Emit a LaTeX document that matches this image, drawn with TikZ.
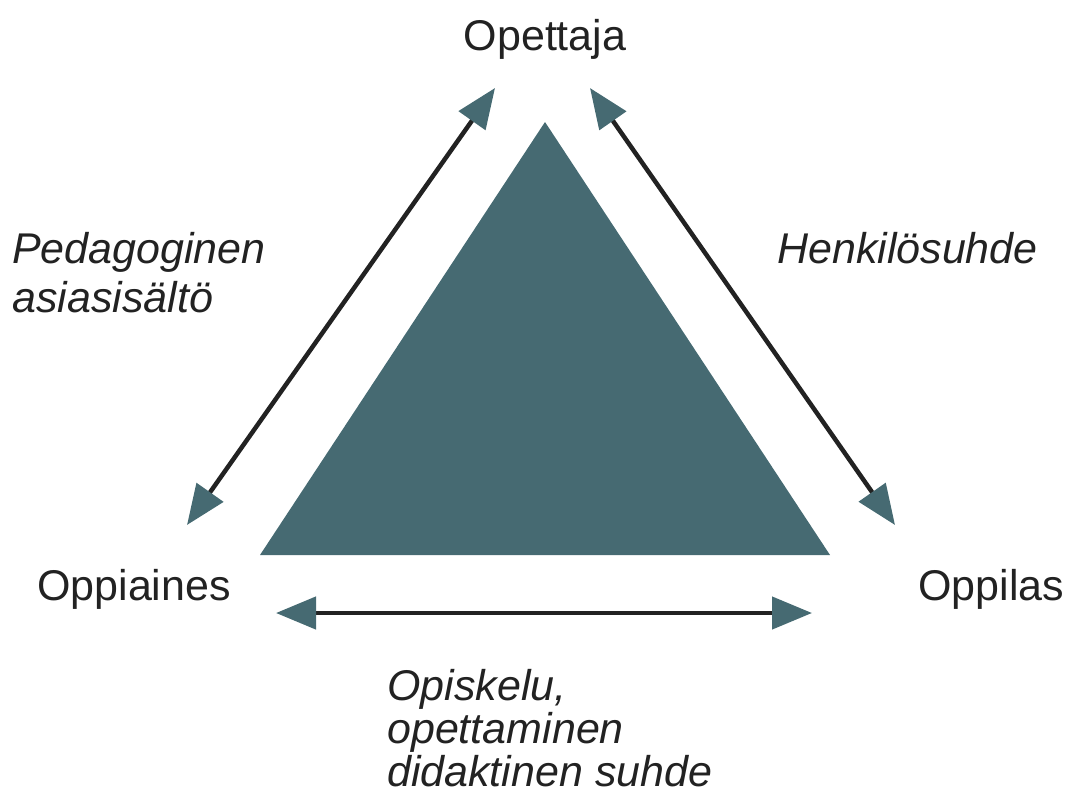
\documentclass[tikz,border=0pt]{standalone}
\usepackage{fontspec}
\setmainfont{Liberation Sans}
\usetikzlibrary{arrows.meta, positioning}
\definecolor{petrol}{HTML}{466A72}
\definecolor{inkgray}{HTML}{222222}
\tikzstyle{corner} = [font=\fontsize{43}{49}\selectfont, text=inkgray, inner sep=0pt]
\tikzstyle{relation} = [corner, font=\fontsize{43}{49}\selectfont\itshape, align=left]
\tikzstyle{line} = [draw=inkgray, line width=4.5pt,
  {Triangle[length=40pt, width=32pt, color=petrol]}-{Triangle[length=40pt, width=32pt, color=petrol]}]

\begin{document}
\begin{tikzpicture}[x=1pt, y=-1pt]
			\useasboundingbox (0,0) rectangle (1070,796);
			% the triangle
			\coordinate (apex) at (545,122);
			\coordinate (bl) at (260,555);
			\coordinate (br) at (830,555);
			\fill [petrol] (apex) -- (bl) -- (br) -- cycle;

			\node [corner, anchor=base] (opettaja) at (545,50) {Opettaja};
			\node [corner, anchor=base west] (oppiaines) at (37,600) {Oppiaines};
			\node [corner, anchor=base west] (oppilas) at (918,600) {Oppilas};

			\node [relation, anchor=north west] (pedagoginen) at (12,232) {Pedagoginen\\asiasisältö};
			\node [relation, anchor=north west] (henkilo) at (777,232) {Henkilösuhde};
			\node [relation, anchor=north west, font=\fontsize{43}{43}\selectfont\itshape] (didaktinen) at (387,669) {Opiskelu,\\opettaminen\\didaktinen suhde};

			\coordinate (l1) at (187,525);
			\coordinate (l2) at (495,88);
			\coordinate (r1) at (590,88);
			\coordinate (r2) at (895,525);
			\coordinate (b1) at (276,613);
			\coordinate (b2) at (812,613);

			\path [line] (l1) -- (l2);
			\path [line] (r1) -- (r2);
			\path [line] (b1) -- (b2);
		\end{tikzpicture}
\end{document}
